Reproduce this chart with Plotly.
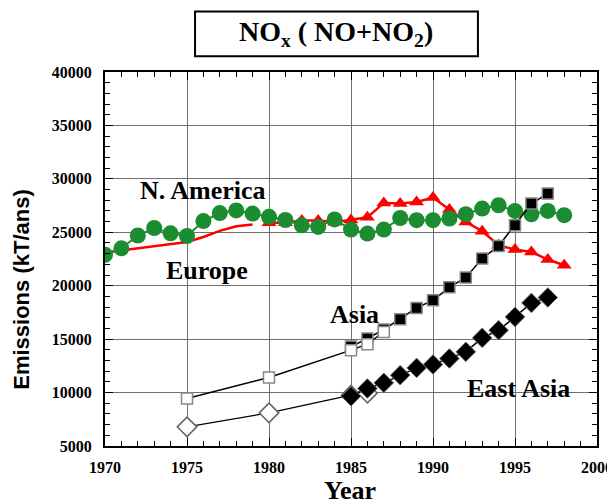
import plotly.graph_objects as go

# ---- data ----
na_years = list(range(1970, 1999))
na_vals = [22900, 23500, 24700, 25400, 24900, 24650, 26050, 26800, 27050, 26750,
           26450, 26150, 25650, 25500, 26200, 25250, 24880, 25250, 26340, 26130,
           26130, 26290, 26690, 27220, 27530, 27000, 26690, 27000, 26600]

eu_line_years = [1970, 1971, 1972, 1973, 1974, 1975, 1976, 1977, 1978, 1979]
eu_line_vals = [23100, 23300, 23500, 23700, 23900, 24100, 24560, 25130, 25570, 25720]

eu_years = list(range(1980, 1999))
eu_vals = [25900, 25900, 26100, 26100, 25950, 26150, 26400, 27750, 27690, 27840,
           28250, 27130, 25970, 25100, 23790, 23390, 23160, 22450, 21920]

asia_old_years = [1975, 1980, 1985, 1986, 1987]
asia_old_vals = [9450, 11410, 13970, 14530, 15680]
asia_years = list(range(1985, 1998))
asia_vals = [14300, 15060, 15900, 16870, 17920, 18640, 19850, 20770, 22540, 23720,
             25660, 27690, 28620]

easia_old_years = [1975, 1980, 1985, 1986]
easia_old_vals = [6790, 8100, 9760, 9950]
easia_years = list(range(1985, 1998))
easia_vals = [9660, 10380, 10910, 11630, 12310, 12630, 13190, 13810, 15120, 15840,
              17080, 18390, 18900]

x_ticks = [1970, 1975, 1980, 1985, 1990, 1995, 2000]
y_ticks = [5000, 10000, 15000, 20000, 25000, 30000, 35000, 40000]

GREEN = "#1b8c30"
RED = "#ff0000"
SERIF = "Liberation Serif"

fig = go.Figure()

# Europe
fig.add_trace(go.Scatter(x=eu_line_years, y=eu_line_vals, mode="lines",
                         line=dict(color=RED, width=2.5), showlegend=False))
fig.add_trace(go.Scatter(x=eu_years, y=eu_vals, mode="lines+markers",
                         line=dict(color=RED, width=2.5),
                         marker=dict(symbol="triangle-up", size=13, color=RED,
                                     line=dict(width=0)), showlegend=False))
# North America
fig.add_trace(go.Scatter(x=na_years, y=na_vals, mode="lines+markers",
                         line=dict(color=GREEN, width=2),
                         marker=dict(symbol="circle", size=16, color=GREEN,
                                     line=dict(width=0)), showlegend=False))
# Asia
fig.add_trace(go.Scatter(x=asia_years, y=asia_vals, mode="lines+markers",
                         line=dict(color="black", width=1.5),
                         marker=dict(symbol="square", size=11, color="black",
                                     line=dict(color="#888888", width=1.5)),
                         showlegend=False))
fig.add_trace(go.Scatter(x=asia_old_years, y=asia_old_vals, mode="lines+markers",
                         line=dict(color="black", width=1.5),
                         marker=dict(symbol="square", size=11, color="white",
                                     line=dict(color="#888888", width=1.5)),
                         showlegend=False))
# East Asia
fig.add_trace(go.Scatter(x=easia_old_years, y=easia_old_vals, mode="lines+markers",
                         line=dict(color="black", width=1.2),
                         marker=dict(symbol="diamond", size=15, color="white",
                                     line=dict(color="#666666", width=1.5)),
                         showlegend=False))
fig.add_trace(go.Scatter(x=easia_years, y=easia_vals, mode="lines+markers",
                         line=dict(color="black", width=1.5),
                         marker=dict(symbol="diamond", size=15, color="black",
                                     line=dict(color="#666666", width=1)),
                         showlegend=False))

tickfont = dict(family=SERIF, size=16, color="black", weight="bold")
labfont = dict(family=SERIF, size=26, color="black", weight="bold")

fig.update_xaxes(range=[1970, 2000], tickvals=x_ticks, ticktext=[str(v) for v in x_ticks],
                 ticks="inside", ticklen=8, tickcolor="black", mirror="allticks",
                 showline=True, linecolor="black", linewidth=2,
                 showgrid=True, gridcolor="#707070", gridwidth=1.2,
                 minor=dict(dtick=1, ticks="inside", ticklen=5, tickcolor="black", showgrid=False),
                 tickfont=tickfont, zeroline=False, automargin=False, ticklabelstandoff=6)
fig.update_yaxes(range=[5000, 40000], tickvals=y_ticks, ticktext=[str(v) for v in y_ticks],
                 ticks="inside", ticklen=8, tickcolor="black", mirror="allticks",
                 showline=True, linecolor="black", linewidth=2,
                 showgrid=True, gridcolor="#707070", gridwidth=1.2,
                 minor=dict(dtick=1000, ticks="inside", ticklen=5, tickcolor="black", showgrid=False),
                 tickfont=tickfont, zeroline=False, automargin=False, ticklabelstandoff=8)

# axis titles
fig.add_annotation(x=0.498, y=-0.118, xref="paper", yref="paper", text="Year",
                   showarrow=False, xanchor="center", yanchor="middle",
                   font=dict(family=SERIF, size=26, color="black", weight="bold"))
fig.add_annotation(x=-0.169, y=0.42, xref="paper", yref="paper", text="Emissions (kT/ans)",
                   showarrow=False, xanchor="center", yanchor="middle", textangle=-90,
                   font=dict(family="Liberation Sans", size=22, color="black", weight="bold"))

annots = [
    dict(x=1976.0, y=28930, text="N. America"),
    dict(x=1976.2, y=21450, text="Europe"),
    dict(x=1985.2, y=17330, text="Asia"),
    dict(x=1995.2, y=10410, text="East Asia"),
]
for a in annots:
    fig.add_annotation(x=a["x"], y=a["y"], text=a["text"], showarrow=False,
                       xref="x", yref="y", font=labfont)

fig.add_shape(type="rect", xref="paper", yref="paper",
              x0=0.183, x1=0.758, y0=1.042, y1=1.162,
              line=dict(color="black", width=2), fillcolor="white", layer="below")
fig.add_annotation(x=0.4695, y=1.103, xref="paper", yref="paper",
                   text="NO<sub>x</sub> ( NO+NO<sub>2</sub>)", showarrow=False,
                   xanchor="center", yanchor="middle",
                   font=dict(family=SERIF, size=28, color="black", weight="bold"))

fig.update_layout(width=607, height=496, plot_bgcolor="white", paper_bgcolor="white",
                  margin=dict(l=97, r=18, t=64, b=58), showlegend=False)

fig.write_html("out.html")
